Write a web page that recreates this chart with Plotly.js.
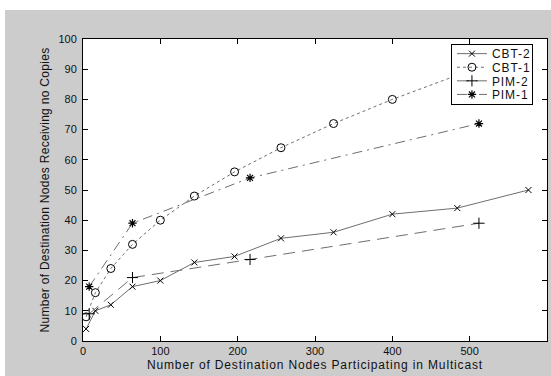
<!DOCTYPE html>
<html>
<head>
<meta charset="utf-8">
<script src="https://cdn.plot.ly/plotly-3.0.1.min.js"></script>
<style>
  html, body { margin: 0; padding: 0; background: #ffffff; width: 551px; height: 376px; overflow: hidden; }
  #chart { position: absolute; left: 5px; top: 10px; width: 546px; height: 366px; }
  #chart .xtitle { letter-spacing: 0.85px; }
  #chart .ytitle { letter-spacing: 0.3px; }
  #chart .legendtext { letter-spacing: 0.9px; }
</style>
</head>
<body>
<div id="chart"></div>
<script>
// Data
const cbtX = [4, 16, 36, 64, 100, 144, 196, 256, 324, 400, 484, 576];
const cbt2Y = [4, 10, 12, 18, 20, 26, 28, 34, 36, 42, 44, 50];
const cbt1Y = [8, 16, 24, 32, 40, 48, 56, 64, 72, 80, 88, 96];
const pimX = [8, 64, 216, 512];
const pim2Y = [9, 21, 27, 39];
const pim1Y = [18, 39, 54, 72];
const seriesNames = ["CBT-2", "CBT-1", "PIM-2", "PIM-1"];

const lineGray = "#6e6e6e";
const tickFont = { family: "Liberation Sans, Arial, sans-serif", size: 11, color: "#111111" };
const titleFont = { family: "Liberation Sans, Arial, sans-serif", size: 12, color: "#111111" };

const traces = [
  { x: cbtX, y: cbt2Y, name: seriesNames[0], mode: "lines+markers",
    line: { color: lineGray, width: 1, dash: "solid" },
    marker: { symbol: "x-thin-open", size: 6, color: "#000", line: { color: "#000", width: 1 } } },
  { x: cbtX, y: cbt1Y, name: seriesNames[1], mode: "lines+markers",
    line: { color: lineGray, width: 1, dash: "3px,3px" },
    marker: { symbol: "circle-open", size: 8, color: "#000", line: { color: "#000", width: 1 } } },
  { x: pimX, y: pim2Y, name: seriesNames[2], mode: "lines+markers",
    line: { color: lineGray, width: 1, dash: "12px,7px" },
    marker: { symbol: "cross-thin-open", size: 8, color: "#000", line: { color: "#000", width: 1 } } },
  { x: pimX, y: pim1Y, name: seriesNames[3], mode: "lines+markers",
    line: { color: lineGray, width: 1, dash: "10px,5px,2px,5px" },
    marker: { symbol: "asterisk-open", size: 7, color: "#000", line: { color: "#000", width: 1.2 } } }
];

const axisCommon = {
  showline: true, linecolor: "#000", linewidth: 1, mirror: "ticks",
  ticks: "inside", ticklen: 5, tickcolor: "#000", tickwidth: 1,
  showgrid: false, zeroline: false, tickfont: tickFont
};

const layout = {
  width: 546, height: 366,
  margin: { l: 78, r: 4, t: 29, b: 35, pad: 0 },
  paper_bgcolor: "#cccccc",
  plot_bgcolor: "#ffffff",
  font: tickFont,
  showlegend: true,
  legend: {
    x: 0.793, y: 0.983, xanchor: "left", yanchor: "top",
    bgcolor: "#ffffff", bordercolor: "#000", borderwidth: 1,
    font: titleFont, tracegroupgap: 0, entrywidth: 50, entrywidthmode: "pixels"
  },
  xaxis: Object.assign({}, axisCommon, {
    range: [0, 600], dtick: 100, tick0: 0,
    title: { text: "Number of Destination Nodes Participating in Multicast", font: titleFont, standoff: 4 }
  }),
  yaxis: Object.assign({}, axisCommon, {
    range: [0, 100], dtick: 10, tick0: 0, ticklabelstandoff: 3,
    title: { text: "Number of Destination Nodes Receiving no Copies", font: titleFont, standoff: 6 }
  })
};

// Compact the legend rows (the reference legend is tighter than Plotly's minimum row height)
function compactLegend(gd) {
  const ROW = 13.6, FIRST = 9.5, HEIGHT = 60;
  const items = gd.querySelectorAll(".legend .traces");
  items.forEach(function (g, i) {
    const t = g.getAttribute("transform") || "";
    const m = t.match(/translate\(\s*([-\d.]+)[ ,]+([-\d.]+)\s*\)/);
    const x = m ? parseFloat(m[1]) : 0;
    g.setAttribute("transform", "translate(" + x + "," + (FIRST + i * ROW) + ")");
  });
  const bg = gd.querySelector(".legend .bg");
  if (bg) bg.setAttribute("height", HEIGHT);
  gd.querySelectorAll(".legend clipPath rect, defs .legendclip rect").forEach(function (r) {
    r.setAttribute("height", HEIGHT);
  });
}

const gd = document.getElementById("chart");
Plotly.newPlot(gd, traces, layout, { staticPlot: true, displayModeBar: false }).then(function () {
  compactLegend(gd);
});
</script>
</body>
</html>
